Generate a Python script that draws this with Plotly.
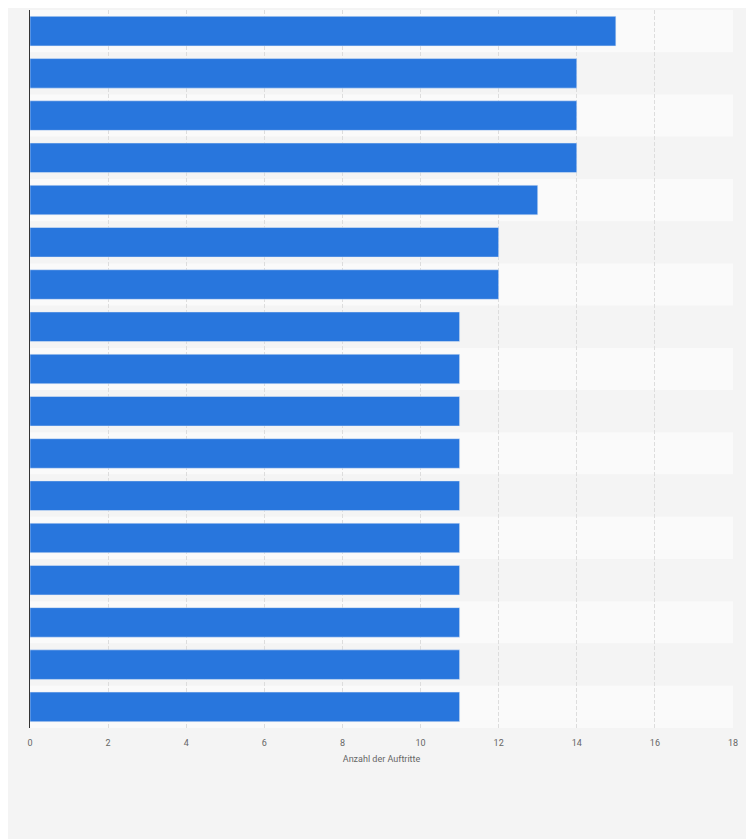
import plotly.graph_objects as go

categories = [f"K{i}" for i in range(1, 18)]
values = [15, 14, 14, 14, 13, 12, 12, 11, 11, 11, 11, 11, 11, 11, 11, 11, 11]
x_ticks = [0, 2, 4, 6, 8, 10, 12, 14, 16, 18]

fig = go.Figure()
fig.add_trace(go.Bar(
    y=categories, x=values, orientation="h",
    marker=dict(color="#2876dd"), hoverinfo="x",
))

# alternating row stripes
for i, cat in enumerate(categories):
    fig.add_shape(
        type="rect", xref="paper", yref="y", layer="below", line_width=0,
        x0=0, x1=1, y0=i - 0.5, y1=i + 0.5,
        fillcolor="#f4f4f4" if i % 2 else "#fafafa",
    )

fig.update_layout(
    width=746, height=831,
    paper_bgcolor="#f4f4f4", plot_bgcolor="#f4f4f4",
    margin=dict(l=22, r=21, t=2, b=111),
    bargap=0.3, showlegend=False,
    font=dict(family="Roboto", size=10, color="#666666"),
    xaxis=dict(
        range=[0, 18], tickvals=x_ticks, showgrid=True,
        gridcolor="#dddddd", griddash="4px,2px", zeroline=False,
        title=dict(text="Anzahl der Auftritte", font=dict(size=9, color="#666666"), standoff=8),
        ticks="outside", ticklen=6, tickcolor="rgba(0,0,0,0)",
        tickfont=dict(size=9, color="#666666"),
    ),
    yaxis=dict(
        categoryorder="array", categoryarray=categories,
        range=[16.5, -0.5],
        showticklabels=False, showgrid=False, zeroline=False,
        showline=True, linecolor="#333333", linewidth=1,
    ),
)

fig.write_html("out.html")
